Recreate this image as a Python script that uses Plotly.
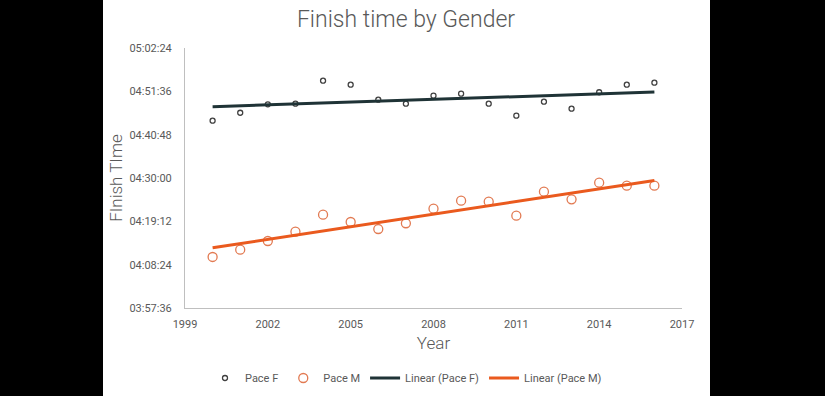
import numpy as np
import plotly.graph_objects as go

years = list(range(2000, 2017))
pace_f = ["04:44:17", "04:46:16", "04:48:22", "04:48:31", "04:54:15", "04:53:15",
          "04:49:31", "04:48:31", "04:50:31", "04:51:01", "04:48:31", "04:45:32",
          "04:49:01", "04:47:16", "04:51:22", "04:53:15", "04:53:45"]
pace_m = ["04:10:19", "04:12:08", "04:14:18", "04:16:37", "04:20:51", "04:19:02",
          "04:17:17", "04:18:43", "04:22:21", "04:24:21", "04:24:06", "04:20:36",
          "04:26:35", "04:24:41", "04:28:50", "04:28:05", "04:28:05"]
y_tick_labels = ["03:57:36", "04:08:24", "04:19:12", "04:30:00", "04:40:48", "04:51:36", "05:02:24"]
x_ticks = [1999, 2002, 2005, 2008, 2011, 2014, 2017]


def to_sec(s):
    h, m, sec = map(int, s.split(":"))
    return h * 3600 + m * 60 + sec


f_sec = np.array([to_sec(s) for s in pace_f])
m_sec = np.array([to_sec(s) for s in pace_m])
yt = [to_sec(s) for s in y_tick_labels]
yr = np.array(years)

cf = np.polyfit(yr, f_sec, 1)
cm = np.polyfit(yr, m_sec, 1)
x_tr = [years[0], years[-1]]

GRAY = "#595959"
FONT = "Roboto"

fig = go.Figure()
fig.add_trace(go.Scatter(x=years, y=f_sec, mode="markers", name="Pace F",
                         marker=dict(symbol="circle-open", size=5, color="#404040",
                                     line=dict(width=1.3))))
fig.add_trace(go.Scatter(x=years, y=m_sec, mode="markers", name="Pace M",
                         marker=dict(symbol="circle-open", size=9, color="#E27A52",
                                     line=dict(width=1.3))))
fig.add_trace(go.Scatter(x=x_tr, y=np.polyval(cf, x_tr), mode="lines", name="Linear (Pace F)",
                         line=dict(color="#1F3336", width=3)))
fig.add_trace(go.Scatter(x=x_tr, y=np.polyval(cm, x_tr), mode="lines", name="Linear (Pace M)",
                         line=dict(color="#EA5A1E", width=3)))

W, H = 825, 396
L, R, T, B = 185, 682, 48, 308
pw, ph = R - L, B - T


def px_x(p):
    return (p - L) / pw


def px_y(p):
    return (B - p) / ph


fig.add_shape(type="rect", xref="paper", yref="paper",
              x0=px_x(103), x1=px_x(710), y0=px_y(H + 5), y1=px_y(-5),
              fillcolor="white", line=dict(width=0), layer="below")

fig.update_layout(
    template="none",
    width=W, height=H,
    margin=dict(l=L, r=W - R, t=T, b=H - B, autoexpand=False),
    paper_bgcolor="black",
    plot_bgcolor="white",
    font=dict(family=FONT, color=GRAY, size=11),
    title=dict(text="Finish time by Gender", x=406 / W, xref="container", xanchor="center",
               y=1 - 19 / H, yref="container", yanchor="middle",
               font=dict(family=FONT, size=23, color=GRAY, weight=300)),
    xaxis=dict(range=[1999, 2017], tickvals=x_ticks, ticktext=[str(v) for v in x_ticks],
               showgrid=False, zeroline=False, showline=True, linecolor="#BFBFBF", linewidth=1,
               ticks="", ticklabelstandoff=6, automargin=False,
               title=dict(text="Year", font=dict(size=17, color=GRAY, weight=300), standoff=6)),
    yaxis=dict(range=[yt[0], yt[-1]], tickvals=yt, ticktext=y_tick_labels,
               showgrid=False, zeroline=False, showline=True, linecolor="#BFBFBF", linewidth=1,
               ticks="", ticklabelstandoff=10, automargin=False,
               title=dict(text="FInish TIme", font=dict(size=17, color=GRAY, weight=300), standoff=2)),
    legend=dict(orientation="h", x=px_x(406), xanchor="center", y=px_y(378), yanchor="middle",
                font=dict(size=11, color=GRAY), bgcolor="rgba(0,0,0,0)", itemwidth=30),
    showlegend=True,
)

fig.write_html(
    "out.html",
    config={"displayModeBar": False},
    post_script="document.body.style.margin='0';document.body.style.background='black';"
                "document.body.style.overflow='hidden';",
)
